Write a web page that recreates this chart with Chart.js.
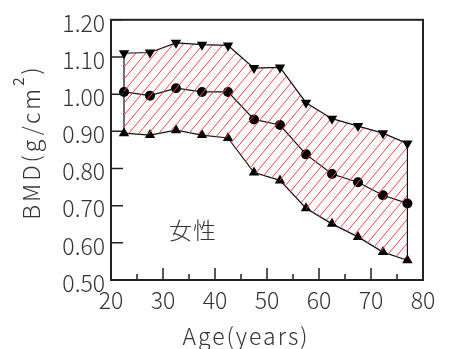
<!DOCTYPE html>
<html>
<head>
<meta charset="utf-8">
<script src="https://cdn.jsdelivr.net/npm/chart.js@4.4.0/dist/chart.umd.min.js"></script>
<style>
  html, body { margin: 0; padding: 0; background: #fff; }
  #wrap { width: 451px; height: 349px; }
</style>
</head>
<body>
<div id="wrap"><canvas id="c"></canvas></div>
<script>
// values
const AGES  = [22.5, 27.5, 32.5, 37.5, 42.5, 47.5, 52.5, 57.5, 62.5, 67.5, 72.3, 77];
const UPPER = [1.110, 1.112, 1.138, 1.133, 1.131, 1.070, 1.072, 0.977, 0.934, 0.914, 0.895, 0.867];
const MEAN  = [1.006, 0.996, 1.016, 1.006, 1.006, 0.932, 0.917, 0.838, 0.785, 0.763, 0.728, 0.706];
const LOWER = [0.895, 0.890, 0.903, 0.890, 0.882, 0.789, 0.768, 0.693, 0.651, 0.616, 0.575, 0.553];

const X_TICKS = [20, 30, 40, 50, 60, 70, 80];
const X_MINOR = [25, 35, 45, 55, 65, 75];
const Y_TICKS = [0.5, 0.6, 0.7, 0.8, 0.9, 1.0, 1.1, 1.2];

const FONT = '"Noto Sans CJK JP", sans-serif';
const INK = '#333';

const ctx = document.getElementById('c').getContext('2d');

// red diagonal hatch for the band between upper and lower
function hatch() {
  const w = 10, h = 12;
  const c = document.createElement('canvas');
  c.width = w; c.height = h;
  const g = c.getContext('2d');
  g.strokeStyle = '#ff4040';
  g.lineWidth = 1;
  g.beginPath();
  g.moveTo(-w, h); g.lineTo(0, 0);
  g.moveTo(0, h);  g.lineTo(w, 0);
  g.moveTo(w, h);  g.lineTo(2 * w, 0);
  g.stroke();
  return ctx.createPattern(c, 'repeat');
}

const pts = vals => AGES.map((a, i) => ({ x: a, y: vals[i] }));
const last = AGES.length - 1;

const decor = {
  id: 'decor',
  afterDraw(chart) {
    const { ctx, chartArea: a, scales: { x, y } } = chart;
    ctx.save();
    ctx.strokeStyle = '#222';
    ctx.lineWidth = 1.5;
    ctx.beginPath();
    X_TICKS.forEach(v => { const p = x.getPixelForValue(v); ctx.moveTo(p, a.bottom); ctx.lineTo(p, a.bottom - 12); });
    X_MINOR.forEach(v => { const p = x.getPixelForValue(v); ctx.moveTo(p, a.bottom); ctx.lineTo(p, a.bottom - 6); });
    Y_TICKS.forEach(v => { const p = y.getPixelForValue(v); ctx.moveTo(a.left, p); ctx.lineTo(a.left + 12, p); });
    ctx.stroke();
    ctx.lineWidth = 2;
    ctx.strokeRect(a.left, a.top, a.right - a.left, a.bottom - a.top);

    ctx.fillStyle = INK;
    ctx.textBaseline = 'alphabetic';
    // x title
    ctx.font = '300 23px ' + FONT;
    ctx.letterSpacing = '2px';
    ctx.textAlign = 'center';
    ctx.fillText('Age(years)', 246, 345);
    // label inside plot
    ctx.letterSpacing = '1px';
    ctx.textBaseline = 'middle';
    ctx.fillText('女性', 193, 230);

    // y title with superscript
    ctx.textBaseline = 'alphabetic';
    ctx.translate(40, 142);
    ctx.rotate(-Math.PI / 2);
    ctx.textAlign = 'left';
    ctx.letterSpacing = '3px';
    ctx.font = '300 23px ' + FONT;
    const w1 = ctx.measureText('BMD(g/cm').width;
    const w3 = ctx.measureText(')').width;
    ctx.font = '15px ' + FONT;
    const w2 = ctx.measureText('2').width;
    const s = -(w1 + w2 + w3) / 2;
    ctx.font = '300 23px ' + FONT;
    ctx.fillText('BMD(g/cm', s, 0);
    ctx.fillText(')', s + w1 + w2, 0);
    ctx.font = '15px ' + FONT;
    ctx.fillText('2', s + w1, -16);
    ctx.restore();
  }
};

new Chart(ctx, {
  type: 'line',
  data: {
    datasets: [
      { data: pts(UPPER), fill: 2, backgroundColor: hatch(), pointStyle: 'triangle', rotation: 180, pointRadius: 6 },
      { data: pts(MEAN), fill: false, pointStyle: 'circle', pointRadius: 5 },
      { data: pts(LOWER), fill: false, pointStyle: 'triangle', pointRadius: 6 },
      { data: [{ x: AGES[0], y: UPPER[0] }, { x: AGES[0], y: LOWER[0] }], fill: false, pointRadius: 0 },
      { data: [{ x: AGES[last], y: UPPER[last] }, { x: AGES[last], y: LOWER[last] }], fill: false, pointRadius: 0 }
    ].map(d => Object.assign({
      borderColor: '#111', borderWidth: 1.2, tension: 0,
      pointBackgroundColor: '#000', pointBorderColor: '#000', pointBorderWidth: 0
    }, d))
  },
  plugins: [decor],
  options: {
    responsive: true,
    maintainAspectRatio: false,
    animation: false,
    layout: { padding: { top: 14, right: 28, left: 0, bottom: 0 } },
    plugins: { legend: { display: false }, tooltip: { enabled: false } },
    scales: {
      x: {
        type: 'linear', min: 20, max: 80,
        afterFit: s => { s.height = 69; },
        afterBuildTicks: s => { s.ticks = X_TICKS.map(v => ({ value: v })); },
        grid: { display: false, drawTicks: false },
        border: { display: false },
        ticks: { color: INK, padding: 6, font: { family: FONT, size: 23, weight: 300 }, maxRotation: 0 }
      },
      y: {
        type: 'linear', min: 0.5, max: 1.2,
        afterFit: s => { s.width = 111; },
        afterBuildTicks: s => { s.ticks = Y_TICKS.map(v => ({ value: v })); },
        grid: { display: false, drawTicks: false },
        border: { display: false },
        ticks: { color: INK, padding: 6, labelOffset: 3, font: { family: FONT, size: 23, weight: 300 },
                 callback: v => v.toFixed(2) }
      }
    }
  }
});
</script>
</body>
</html>
